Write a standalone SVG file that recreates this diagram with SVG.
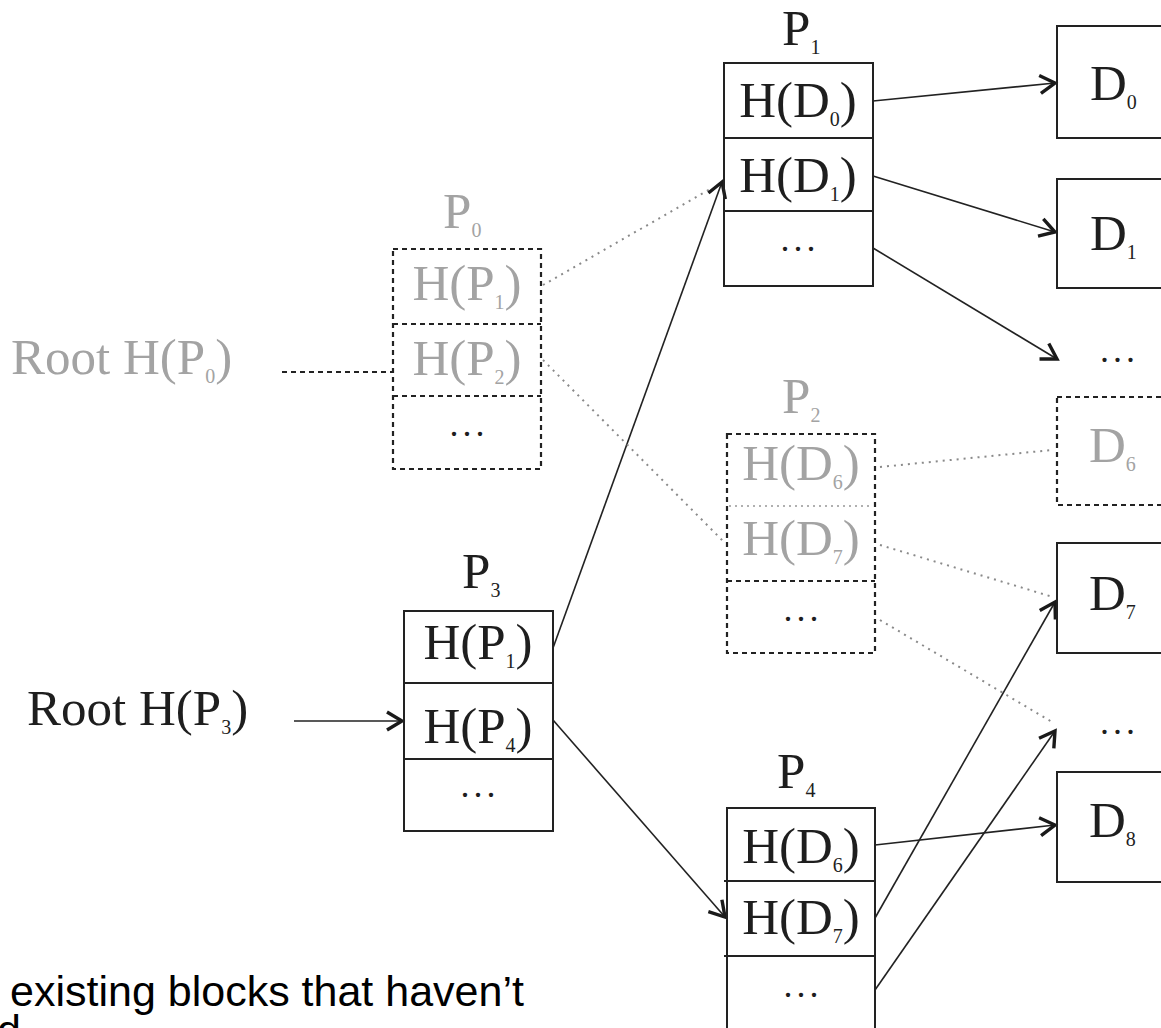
<svg xmlns="http://www.w3.org/2000/svg" width="1161" height="1028" viewBox="0 0 1161 1028">
  <defs>
    <marker id="arrow" markerUnits="userSpaceOnUse" markerWidth="24" markerHeight="24" viewBox="-20 -12 24 24" refX="0" refY="0" orient="auto">
      <path d="M-15,-9 L0,0 L-15,9" fill="none" stroke="#1a1a1a" stroke-width="3.4" stroke-linejoin="miter"/>
    </marker>
    <style>
      .t { font-family: "Liberation Serif", "Times New Roman", serif; font-size: 51px; fill: #1e1e1e; }
      .g { fill: #a3a3a3; }
      .sub { font-size: 20px; }
      .dots { font-family: "Liberation Serif", serif; font-size: 36px; letter-spacing: 4px; fill: #1e1e1e; }
      .box { fill: none; stroke: #222; stroke-width: 2; }
      .dbox { fill: none; stroke: #222; stroke-width: 2.2; stroke-dasharray: 5 4; }
      .dsep { fill: none; stroke: #b0b0b0; stroke-width: 2; stroke-dasharray: 2 4; }
      .conn { fill: none; stroke: #222; stroke-width: 1.6; }
      .dot { fill: none; stroke: #8a8a8a; stroke-width: 2; stroke-dasharray: 2 5; }
      .note { font-family: "Liberation Sans", Arial, sans-serif; font-size: 43px; fill: #000; }
    </style>
  </defs>

  <!-- connectors -->
  <g id="connectors">
    <line class="dbox" x1="282" y1="372" x2="393" y2="372"/>
    <line class="conn" x1="294" y1="721" x2="402" y2="721" marker-end="url(#arrow)"/>
    <line class="dot" x1="543" y1="285" x2="712" y2="188"/>
    <line class="conn" x1="553" y1="648" x2="722" y2="182" marker-end="url(#arrow)"/>
    <line class="dot" x1="543" y1="360" x2="725" y2="543"/>
    <line class="conn" x1="553" y1="720" x2="725" y2="917" marker-end="url(#arrow)"/>
    <line class="conn" x1="873" y1="101" x2="1055" y2="83" marker-end="url(#arrow)"/>
    <line class="conn" x1="873" y1="176" x2="1055" y2="232" marker-end="url(#arrow)"/>
    <line class="conn" x1="873" y1="248" x2="1057" y2="359" marker-end="url(#arrow)"/>
    <line class="dot" x1="880" y1="467" x2="1052" y2="450"/>
    <line class="dot" x1="880" y1="545" x2="1053" y2="597"/>
    <line class="dot" x1="880" y1="620" x2="1052" y2="722"/>
    <line class="conn" x1="875" y1="845" x2="1055" y2="825" marker-end="url(#arrow)"/>
    <line class="conn" x1="875" y1="918" x2="1055" y2="602" marker-end="url(#arrow)"/>
    <line class="conn" x1="875" y1="990" x2="1055" y2="731" marker-end="url(#arrow)"/>
  </g>

  <!-- root labels -->
  <g id="root-p0">
    <text class="t g" x="11" y="374">Root H(P<tspan class="sub" dy="9">0</tspan><tspan dy="-9">)</tspan></text>
  </g>
  <g id="root-p3">
    <text class="t" x="27" y="725">Root H(P<tspan class="sub" dy="9">3</tspan><tspan dy="-9">)</tspan></text>
  </g>

  <!-- P0: superseded page -->
  <g id="p0">
    <text class="t g" x="443" y="228">P<tspan class="sub" dy="9">0</tspan></text>
    <rect class="dbox" x="393" y="249" width="148" height="220"/>
    <line class="dbox" x1="393" y1="324" x2="541" y2="324"/>
    <line class="dbox" x1="393" y1="396" x2="541" y2="396"/>
    <text class="t g" x="467" y="300" text-anchor="middle">H(P<tspan class="sub" dy="9">1</tspan><tspan dy="-9">)</tspan></text>
    <text class="t g" x="467" y="375" text-anchor="middle">H(P<tspan class="sub" dy="9">2</tspan><tspan dy="-9">)</tspan></text>
    <text class="dots g" x="469" y="436" text-anchor="middle">...</text>
  </g>

  <!-- P1 -->
  <g id="p1">
    <text class="t" x="782" y="45">P<tspan class="sub" dy="9">1</tspan></text>
    <rect class="box" x="724" y="63" width="149" height="223"/>
    <line class="box" x1="724" y1="138" x2="873" y2="138"/>
    <line class="box" x1="724" y1="211" x2="873" y2="211"/>
    <text class="t" x="798" y="117" text-anchor="middle">H(D<tspan class="sub" dy="9">0</tspan><tspan dy="-9">)</tspan></text>
    <text class="t" x="798" y="192" text-anchor="middle">H(D<tspan class="sub" dy="9">1</tspan><tspan dy="-9">)</tspan></text>
    <text class="dots" x="800" y="251" text-anchor="middle">...</text>
  </g>

  <!-- P2: superseded page -->
  <g id="p2">
    <text class="t g" x="782" y="413">P<tspan class="sub" dy="9">2</tspan></text>
    <rect class="dbox" x="727" y="434" width="148" height="219"/>
    <line class="dsep" x1="729" y1="506" x2="873" y2="506"/>
    <line class="dbox" x1="727" y1="581" x2="875" y2="581"/>
    <text class="t g" x="801" y="480" text-anchor="middle">H(D<tspan class="sub" dy="9">6</tspan><tspan dy="-9">)</tspan></text>
    <text class="t g" x="801" y="555" text-anchor="middle">H(D<tspan class="sub" dy="9">7</tspan><tspan dy="-9">)</tspan></text>
    <text class="dots g" x="803" y="621" text-anchor="middle">...</text>
  </g>

  <!-- P3 -->
  <g id="p3">
    <text class="t" x="462" y="588">P<tspan class="sub" dy="9">3</tspan></text>
    <rect class="box" x="404" y="611" width="149" height="220"/>
    <line class="box" x1="404" y1="683" x2="553" y2="683"/>
    <line class="box" x1="404" y1="759" x2="553" y2="759" stroke="#777"/>
    <text class="t" x="478" y="659" text-anchor="middle">H(P<tspan class="sub" dy="9">1</tspan><tspan dy="-9">)</tspan></text>
    <text class="t" x="478" y="743" text-anchor="middle">H(P<tspan class="sub" dy="9">4</tspan><tspan dy="-9">)</tspan></text>
    <text class="dots" x="480" y="797" text-anchor="middle">...</text>
  </g>

  <!-- P4 -->
  <g id="p4">
    <text class="t" x="777" y="788">P<tspan class="sub" dy="9">4</tspan></text>
    <rect class="box" x="727" y="808" width="148" height="222"/>
    <line class="box" x1="724" y1="881" x2="875" y2="881"/>
    <line class="box" x1="724" y1="956" x2="875" y2="956"/>
    <text class="t" x="801" y="863" text-anchor="middle">H(D<tspan class="sub" dy="9">6</tspan><tspan dy="-9">)</tspan></text>
    <text class="t" x="801" y="934" text-anchor="middle">H(D<tspan class="sub" dy="9">7</tspan><tspan dy="-9">)</tspan></text>
    <text class="dots" x="803" y="997" text-anchor="middle">...</text>
  </g>

  <!-- data blocks -->
  <g id="d0">
    <rect class="box" x="1057" y="26" width="120" height="112"/>
    <text class="t" x="1090" y="100">D<tspan class="sub" dy="9">0</tspan></text>
  </g>
  <g id="d1">
    <rect class="box" x="1057" y="179" width="120" height="109"/>
    <text class="t" x="1090" y="250">D<tspan class="sub" dy="9">1</tspan></text>
  </g>
  <g id="d-more-1">
    <text class="dots" x="1100" y="362">...</text>
  </g>
  <g id="d6">
    <rect class="dbox" x="1057" y="397" width="120" height="108"/>
    <text class="t g" x="1089" y="462">D<tspan class="sub" dy="9">6</tspan></text>
  </g>
  <g id="d7">
    <rect class="box" x="1057" y="543" width="120" height="110"/>
    <text class="t" x="1089" y="610">D<tspan class="sub" dy="9">7</tspan></text>
  </g>
  <g id="d-more-2">
    <text class="dots" x="1100" y="734">...</text>
  </g>
  <g id="d8">
    <rect class="box" x="1057" y="772" width="120" height="110"/>
    <text class="t" x="1089" y="837">D<tspan class="sub" dy="9">8</tspan></text>
  </g>

  <!-- caption fragment, running off the lower edge -->
  <text class="note" x="10" y="1006">existing blocks that haven’t</text>
  <text class="note" x="-3" y="1045">d</text>
</svg>
